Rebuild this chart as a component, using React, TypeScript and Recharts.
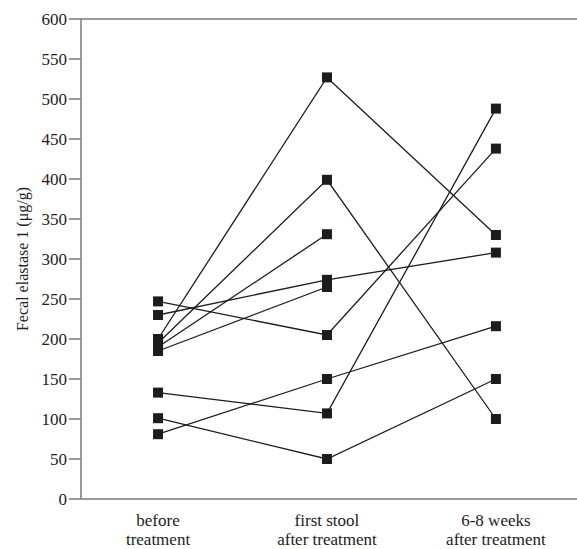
import { LineChart, Line, XAxis, YAxis, ReferenceLine } from "recharts";

const stageLines = [
  ["before", "treatment"],
  ["first stool", "after treatment"],
  ["6-8 weeks", "after treatment"],
];
const yTicks = [0, 50, 100, 150, 200, 250, 300, 350, 400, 450, 500, 550, 600];

// one value per patient, same order in each array
const beforeTreatment = [200, 195, 190, 185, 230, 247, 133, 101, 81];
const firstStool = [527, 399, 331, 265, 274, 205, 107, 50, 150];
const weeks6to8 = [330, 100, null, null, 308, 438, 488, 150, 216];

const stages = [beforeTreatment, firstStool, weeks6to8];
const patients = beforeTreatment.map((_, i) => `p${i + 1}`);

const data = stages.map((vals, x) => {
  const row: Record<string, number | null> = { x };
  vals.forEach((v, i) => {
    row[patients[i]] = v;
  });
  return row;
});

const font = "'Liberation Serif', 'DejaVu Serif', serif";
const axisColor = "#7a7a7a";

const SquareDot = (props: any) => {
  const { cx, cy, key } = props;
  if (cx == null || cy == null || isNaN(cy)) return <g key={key} />;
  return <rect key={key} x={cx - 5} y={cy - 5} width={10} height={10} fill="#1c1c1e" />;
};

const StageTick = (props: any) => {
  const { x, y, payload } = props;
  const lines = stageLines[payload.value] || [];
  return (
    <g>
      {lines.map((t, i) => (
        <text
          key={i}
          x={x}
          y={y + 19 + i * 19}
          textAnchor="middle"
          fontFamily={font}
          fontSize={17}
          fill="#222"
        >
          {t}
        </text>
      ))}
    </g>
  );
};

export default function App() {
  return (
    <div style={{ position: "absolute", left: 0, top: 0, background: "#fff" }}>
      <LineChart
        width={577}
        height={549}
        data={data}
        margin={{ top: 19, right: 0, bottom: 0, left: 0 }}
      >
        <XAxis
          dataKey="x"
          type="number"
          domain={[-0.456, 2.48]}
          ticks={[0, 1, 2]}
          tickLine={false}
          tick={<StageTick />}
          height={50}
          stroke={axisColor}
          strokeWidth={1.5}
          allowDataOverflow
        />
        <YAxis
          domain={[0, 600]}
          ticks={yTicks}
          width={81}
          tickSize={12}
          tickMargin={2}
          stroke={axisColor}
          strokeWidth={1.5}
          interval={0}
          tick={{ fontFamily: font, fontSize: 17, fill: "#222" }}
          label={{
            value: "Fecal elastase 1 (μg/g)",
            angle: -90,
            position: "insideLeft",
            offset: 22,
            style: { fontFamily: font, fontSize: 16, fill: "#222", textAnchor: "middle" },
          }}
        />
        <ReferenceLine y={600} stroke={axisColor} strokeWidth={1.5} />
        {patients.map((p) => (
          <Line
            key={p}
            dataKey={p}
            stroke="#1c1c1e"
            strokeWidth={1.3}
            dot={<SquareDot />}
            activeDot={false}
            isAnimationActive={false}
            connectNulls={false}
          />
        ))}
      </LineChart>
    </div>
  );
}
